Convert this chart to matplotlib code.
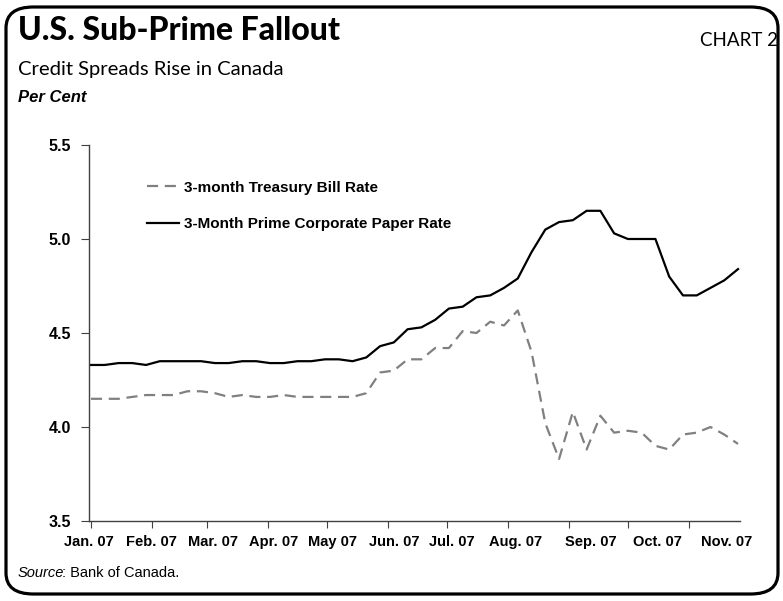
import numpy as np
import pandas as pd
import matplotlib
matplotlib.use("Agg")
import matplotlib.pyplot as plt
from matplotlib import font_manager
from matplotlib.patches import FancyBboxPatch

# weekly observations, 2007
week_start = "2007-01-01"
n_weeks = 48
tbill = [4.15, 4.15, 4.15, 4.16, 4.17, 4.17, 4.17, 4.19, 4.19, 4.18,
         4.16, 4.17, 4.16, 4.16, 4.17, 4.16, 4.16, 4.16, 4.16, 4.16,
         4.18, 4.29, 4.30, 4.36, 4.36, 4.42, 4.42, 4.51, 4.50, 4.56,
         4.54, 4.62, 4.40, 4.02, 3.83, 4.08, 3.88, 4.06, 3.97, 3.98,
         3.97, 3.90, 3.88, 3.96, 3.97, 4.00, 3.96, 3.91]
paper = [4.33, 4.33, 4.34, 4.34, 4.33, 4.35, 4.35, 4.35, 4.35, 4.34,
         4.34, 4.35, 4.35, 4.34, 4.34, 4.35, 4.35, 4.36, 4.36, 4.35,
         4.37, 4.43, 4.45, 4.52, 4.53, 4.57, 4.63, 4.64, 4.69, 4.70,
         4.74, 4.79, 4.93, 5.05, 5.09, 5.10, 5.15, 5.15, 5.03, 5.00,
         5.00, 5.00, 4.80, 4.70, 4.70, 4.74, 4.78, 4.84]
series_names = ["3-month Treasury Bill Rate", "3-Month Prime Corporate Paper Rate"]
month_labels = ["Jan. 07", "Feb. 07", "Mar. 07", "Apr. 07", "May 07", "Jun. 07",
                "Jul. 07", "Aug. 07", "Sep. 07", "Oct. 07", "Nov. 07"]
yticks = [3.5, 4.0, 4.5, 5.0, 5.5]


def pick_font(names):
    for nm in names:
        try:
            font_manager.findfont(font_manager.FontProperties(family=nm),
                                  fallback_to_default=False)
            return nm
        except Exception:
            pass
    return "DejaVu Sans"


ARIAL = pick_font(["Liberation Sans", "Arial"])
HEAD = pick_font(["Lato", "Liberation Sans"])
plt.rcParams['font.family'] = [ARIAL, 'DejaVu Sans']

dates = pd.date_range(week_start, periods=n_weeks, freq="7D")
x0 = pd.Timestamp("2007-01-01")

W, H = 783, 601
fig = plt.figure(figsize=(W / 100, H / 100), dpi=100)
renderer = fig.canvas.get_renderer()


def fit_width(txt, px):
    # shrink/grow the font so the text spans about px pixels
    w = txt.get_window_extent(renderer).width
    txt.set_fontsize(txt.get_fontsize() * px / w)


# rounded frame around everything
frame = FancyBboxPatch((6 / W, 7 / H), 772 / W, 587 / H,
                       boxstyle="round,pad=0,rounding_size=0.035",
                       transform=fig.transFigure, fill=False,
                       edgecolor="black", linewidth=2.3, clip_on=False)
fig.patches.append(frame)

t = fig.text(18 / W, 1 - 31 / H, "U.S. Sub-Prime Fallout", family=HEAD,
             fontweight=900, fontsize=24, va="center", ha="left")
fit_width(t, 322)
t = fig.text(778 / W, 1 - 40 / H, "CHART 2", family=HEAD, fontsize=15,
             va="center", ha="right")
fit_width(t, 78)
t = fig.text(18 / W, 1 - 69 / H, "Credit Spreads Rise in Canada", family=HEAD,
             fontsize=17, va="center", ha="left")
fit_width(t, 266)
fig.text(18 / W, 1 - 98 / H, "Per Cent", fontweight="bold", style="italic",
         fontsize=12, va="center", ha="left")
fig.text(18 / W, 1 - 573 / H, "Source", style="italic", fontsize=10.5,
         va="center", ha="left")
fig.text(62 / W, 1 - 573 / H, ": Bank of Canada.", fontsize=10.5,
         va="center", ha="left")

ax = fig.add_axes([89 / W, 80 / H, 651 / W, 376 / H])
ax.plot(dates, tbill, color="#808080", lw=1.6, dashes=(5, 3),
        label=series_names[0])
ax.plot(dates, paper, color="black", lw=1.6, label=series_names[1])

ax.set_ylim(3.5, 5.5)
ax.set_yticks(yticks)
ax.set_yticklabels(["%.1f" % v for v in yticks])
ax.set_xlim(x0, x0 + pd.Timedelta(days=330))

# month ticks on the 1st, labels drawn a bit off the tick like the original
ax.xaxis.remove_overlapping_locs = False
month_starts = pd.date_range("2007-01-01", periods=11, freq="MS")
ax.set_xticks(month_starts)
ax.set_xticklabels([])
label_days = [-1, 31, 62, 93, 123, 154, 183.5, 216, 254, 288, 323]
ax.set_xticks([x0 + pd.Timedelta(days=d) for d in label_days], minor=True)
ax.set_xticklabels(month_labels, minor=True)
ax.tick_params(axis="x", which="minor", length=0, pad=10)
ax.tick_params(axis="x", which="major", length=5, direction="out", color="#404040")
ax.tick_params(axis="y", length=6, direction="out", pad=7, color="#404040")
for lab in ax.get_xticklabels(minor=True):
    lab.set_fontweight("bold")
    lab.set_fontsize(10.5)
for lab in ax.get_yticklabels():
    lab.set_fontweight("bold")
    lab.set_fontsize(11.5)

for s in ["top", "right"]:
    ax.spines[s].set_visible(False)
for s in ["left", "bottom"]:
    ax.spines[s].set_color("#404040")
    ax.spines[s].set_linewidth(1.0)

leg = ax.legend(loc="upper left", bbox_to_anchor=(0.089, 0.905), frameon=False,
                handlelength=2.1, handletextpad=0.3, labelspacing=1.45,
                borderpad=0, borderaxespad=0,
                prop={"weight": "bold", "size": 11})

fig.savefig("out.png", dpi=100)
